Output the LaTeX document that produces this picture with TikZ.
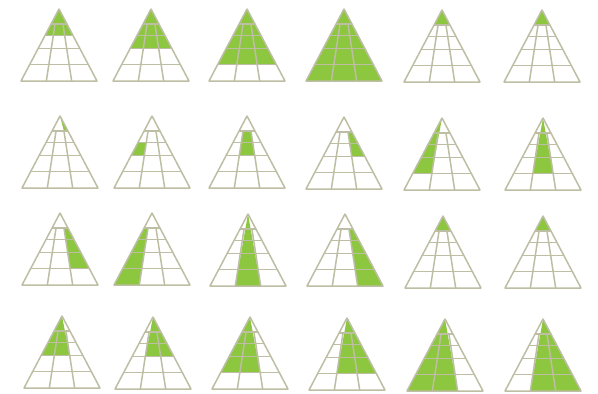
\documentclass[tikz,border=0pt]{standalone}
\definecolor{Leaf}{HTML}{8DC63F}
\definecolor{Khaki}{HTML}{BDBEA3}
\newcommand{\pyrw}{76}
\newcommand{\pyrh}{72}
% x of column border #1 (0..3) at depth #2 (0..1)
\newcommand{\colx}[2]{max(-#2*\pyrw/2,min(#2*\pyrw/2,(2*#1-3)*(#2+0.15)/1.15*\pyrw/6))}

\tikzset{
  leaf/.style={fill=Leaf},
  gridline/.style={draw=Khaki,line width=1.5pt,line join=round},
  % #1: list of lo/hi/cl/cr blocks (levels 0..5, column borders 0..3)
  pics/pyramid/.style={code={
    \foreach \lo/\hi/\cl/\cr in {#1}{
      \pgfmathsetmacro\ta{{0,0.21,0.37,0.55,0.77,1}[\lo]}
      \pgfmathsetmacro\tb{{0,0.21,0.37,0.55,0.77,1}[\hi]}
      \fill[leaf] ({\colx{\cl}{\ta}},{\ta*\pyrh}) -- ({\colx{\cr}{\ta}},{\ta*\pyrh})
        -- ({\colx{\cr}{\tb}},{\tb*\pyrh}) -- ({\colx{\cl}{\tb}},{\tb*\pyrh}) -- cycle;
    }
    \foreach \t in {0.21,0.37,0.55,0.77}
      \draw[gridline] ({-\t*\pyrw/2},{\t*\pyrh}) -- ({\t*\pyrw/2},{\t*\pyrh});
    \foreach \c in {1,2}
      \draw[gridline] ({\colx{\c}{0.21}},{0.21*\pyrh}) -- ({\colx{\c}{1}},\pyrh);
    \draw[gridline] (0,0) -- ({-\pyrw/2},\pyrh) -- ({\pyrw/2},\pyrh) -- cycle;
  }}
}

\begin{document}
\begin{tikzpicture}[x=1pt,y=-1pt]
\useasboundingbox[fill=white] (0,0) rectangle (598,394);
% row 1
\pic at (59,9) {pyramid={0/2/0/3}};
\pic at (151,9) {pyramid={0/3/0/3}};
\pic at (247,9) {pyramid={0/4/0/3}};
\pic at (344,9) {pyramid={0/5/0/3}};
\pic at (442,10) {pyramid={0/1/0/3}};
\pic at (542,10) {pyramid={0/1/0/3}};
% row 2
\pic at (60,116) {pyramid={0/1/2/3}};
\pic at (152,116) {pyramid={2/3/0/1}};
\pic at (247,116) {pyramid={1/3/1/2}};
\pic at (344,117) {pyramid={1/3/2/3}};
\pic at (442,118) {pyramid={0/4/0/1}};
\pic at (543,118) {pyramid={0/4/1/2}};
% row 3
\pic at (60,213) {pyramid={1/4/2/3}};
\pic at (152,213) {pyramid={1/5/0/1}};
\pic at (248,214) {pyramid={0/5/1/2}};
\pic at (345,214) {pyramid={1/5/2/3}};
\pic at (443,216) {pyramid={0/1/0/3}};
\pic at (543,216) {pyramid={0/1/0/3}};
% row 4
\pic at (62,316) {pyramid={0/3/0/2}};
\pic at (153,317) {pyramid={0/3/1/3}};
\pic at (250,317) {pyramid={0/4/0/2}};
\pic at (347,318) {pyramid={0/4/1/3}};
\pic at (445,319) {pyramid={0/5/0/2}};
\pic at (543,319) {pyramid={0/5/1/3}};
\end{tikzpicture}
\end{document}
